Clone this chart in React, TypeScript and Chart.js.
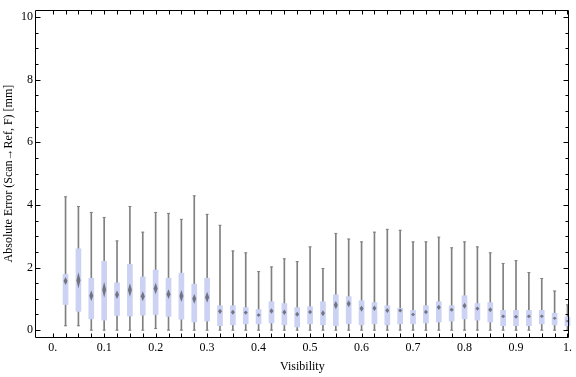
import React, { useEffect, useRef } from "react";
import { Chart, registerables } from "chart.js";
Chart.register(...registerables);

const VISIBILITY = [
  0.025, 0.05, 0.075, 0.1, 0.125, 0.15, 0.175, 0.2, 0.225, 0.25,
  0.275, 0.3, 0.325, 0.35, 0.375, 0.4, 0.425, 0.45, 0.475, 0.5,
  0.525, 0.55, 0.575, 0.6, 0.625, 0.65, 0.675, 0.7, 0.725, 0.75,
  0.775, 0.8, 0.825, 0.85, 0.875, 0.9, 0.925, 0.95, 0.975, 1.0,
];
const WHISKER_LOW = [
  0.14, 0.14, 0, 0, 0, 0, 0, 0.05, 0, 0,
  0, 0, 0, 0, 0, 0, 0, 0, 0, 0,
  0, 0, 0, 0, 0, 0, 0, 0, 0, 0,
  0, 0, 0, 0, 0, 0, 0, 0, 0, 0,
];
const Q1 = [
  0.82, 0.6, 0.36, 0.32, 0.47, 0.45, 0.48, 0.5, 0.44, 0.35,
  0.26, 0.29, 0.14, 0.17, 0.2, 0.2, 0.23, 0.17, 0.1, 0.2,
  0.17, 0.14, 0.21, 0.17, 0.2, 0.17, 0.2, 0.2, 0.23, 0.26,
  0.29, 0.36, 0.32, 0.26, 0.14, 0.14, 0.14, 0.2, 0.17, 0.14,
];
const MEDIAN = [
  1.57, 1.59, 1.1, 1.29, 1.13, 1.28, 1.08, 1.33, 1.15, 1.09,
  1.0, 1.05, 0.6, 0.57, 0.56, 0.48, 0.61, 0.57, 0.51, 0.58,
  0.54, 0.8, 0.84, 0.69, 0.7, 0.63, 0.63, 0.5, 0.58, 0.73,
  0.65, 0.78, 0.69, 0.65, 0.44, 0.43, 0.44, 0.44, 0.38, 0.29,
];
const Q3 = [
  1.78, 2.6, 1.66, 2.2, 1.51, 2.1, 1.7, 1.92, 1.66, 1.82,
  1.47, 1.66, 0.78, 0.78, 0.72, 0.66, 0.91, 0.85, 0.72, 0.75,
  0.91, 1.13, 1.07, 0.94, 0.88, 0.78, 0.7, 0.63, 0.78, 0.91,
  0.78, 1.1, 0.85, 0.88, 0.63, 0.63, 0.63, 0.63, 0.54, 0.42,
];
const WHISKER_HIGH = [
  4.26, 3.95, 3.76, 3.6, 2.85, 3.95, 3.13, 3.76, 3.73, 3.54,
  4.29, 3.7, 3.35, 2.53, 2.47, 1.87, 2.02, 2.28, 2.19, 2.66,
  1.97, 3.09, 2.91, 2.82, 3.13, 3.22, 3.19, 2.82, 2.82, 2.97,
  2.63, 2.82, 2.66, 2.47, 2.13, 2.22, 1.84, 1.65, 1.25, 0.81,
];

const X_TICK_VALUES = [0, 0.1, 0.2, 0.3, 0.4, 0.5, 0.6, 0.7, 0.8, 0.9, 1.0];
const X_TICK_LABELS = ["0.", "0.1", "0.2", "0.3", "0.4", "0.5", "0.6", "0.7", "0.8", "0.9", "1."];
const X_MINOR_TICKS = [0, ...VISIBILITY];
const Y_TICK_VALUES = [0, 2, 4, 6, 8, 10];
const Y_MINOR_TICKS = [
  0, 0.5, 1, 1.5, 2, 2.5, 3, 3.5, 4, 4.5, 5, 5.5, 6, 6.5, 7, 7.5, 8, 8.5, 9, 9.5, 10,
];

const X_TITLE = "Visibility";
const Y_TITLE = "Absolute Error (Scan\u2192Ref, F) [mm]";

const BOX_COLOR = "#cbd2f4";
const WHISKER_COLOR = "#808080";

const diamondPlugin = {
  id: "medianDiamonds",
  afterDatasetsDraw(chart: any) {
    const { ctx } = chart;
    const xs = chart.scales.x;
    const ys = chart.scales.y;
    ctx.save();
    ctx.fillStyle = "rgba(100,100,108,0.85)";
    VISIBILITY.forEach((v, i) => {
      const cx = xs.getPixelForValue(v);
      const cy = ys.getPixelForValue(MEDIAN[i]);
      const iqrPx = ys.getPixelForValue(Q1[i]) - ys.getPixelForValue(Q3[i]);
      const half = Math.max(0.8, iqrPx * 0.13);
      ctx.beginPath();
      ctx.moveTo(cx, cy - half);
      ctx.lineTo(cx + 2, cy);
      ctx.lineTo(cx, cy + half);
      ctx.lineTo(cx - 2, cy);
      ctx.closePath();
      ctx.fill();
    });
    ctx.restore();
  },
};

const framePlugin = {
  id: "frameTicks",
  afterDraw(chart: any) {
    const { ctx, chartArea } = chart;
    const xs = chart.scales.x;
    const ys = chart.scales.y;
    const L = Math.round(chartArea.left) - 0.5;
    const R = Math.round(chartArea.right) - 0.5;
    const T = Math.round(chartArea.top) + 0.5;
    const B = Math.round(chartArea.bottom) + 0.5;
    ctx.save();
    ctx.strokeStyle = "#000";
    ctx.lineWidth = 1;
    ctx.beginPath();
    ctx.rect(L, T, R - L, B - T);
    X_MINOR_TICKS.forEach((v) => {
      const px = Math.round(xs.getPixelForValue(v)) + 0.5;
      ctx.moveTo(px, B);
      ctx.lineTo(px, B - 4);
      ctx.moveTo(px, T);
      ctx.lineTo(px, T + 4);
    });
    Y_MINOR_TICKS.forEach((v) => {
      const py = Math.round(ys.getPixelForValue(v)) + 0.5;
      const len = Y_TICK_VALUES.includes(v) ? 5 : 3;
      ctx.moveTo(L, py);
      ctx.lineTo(L + len, py);
      ctx.moveTo(R, py);
      ctx.lineTo(R - len, py);
    });
    ctx.stroke();
    ctx.restore();
  },
};

export default function App() {
  const canvasRef = useRef<HTMLCanvasElement | null>(null);

  useEffect(() => {
    if (!canvasRef.current) return;
    Chart.defaults.font.family = "'Liberation Serif', 'DejaVu Serif', serif";
    Chart.defaults.font.size = 12;
    Chart.defaults.color = "#000";

    const whiskerData = VISIBILITY.map((v, i) => ({ x: v, y: [WHISKER_LOW[i], WHISKER_HIGH[i]] }));
    const boxData = VISIBILITY.map((v, i) => ({ x: v, y: [Q1[i], Q3[i]] }));
    const capHigh = VISIBILITY.map((v, i) => ({ x: v, y: WHISKER_HIGH[i] }));
    const capLow = VISIBILITY.map((v, i) => ({ x: v, y: WHISKER_LOW[i] }));

    const chart = new Chart(canvasRef.current, {
      type: "bar",
      data: {
        datasets: [
          {
            type: "bar",
            data: whiskerData as any,
            backgroundColor: WHISKER_COLOR,
            borderWidth: 0,
            barThickness: 1,
            grouped: false,
            clip: false,
            order: 3,
          } as any,
          {
            type: "bar",
            data: boxData as any,
            backgroundColor: BOX_COLOR,
            borderWidth: 0,
            barThickness: 5,
            grouped: false,
            clip: false,
            order: 2,
          } as any,
          {
            type: "scatter",
            data: capHigh,
            pointStyle: "line",
            radius: 1.5,
            borderColor: WHISKER_COLOR,
            borderWidth: 1,
            clip: false,
            order: 1,
          } as any,
          {
            type: "scatter",
            data: capLow,
            pointStyle: "line",
            radius: 1.5,
            borderColor: WHISKER_COLOR,
            borderWidth: 1,
            clip: false,
            order: 1,
          } as any,
        ],
      },
      options: {
        responsive: false,
        animation: false,
        events: [],
        layout: { padding: { left: 0, right: 4, top: 4, bottom: 0 } },
        plugins: {
          legend: { display: false },
          tooltip: { enabled: false },
        },
        scales: {
          x: {
            type: "linear",
            offset: false,
            min: -0.0324,
            max: 1.0025,
            grid: { display: false, drawTicks: false },
            border: { display: false },
            afterBuildTicks: (scale: any) => {
              scale.ticks = X_TICK_VALUES.map((v) => ({ value: v }));
            },
            afterFit: (scale: any) => {
              scale.height = 40;
            },
            ticks: {
              autoSkip: false,
              maxRotation: 0,
              minRotation: 0,
              padding: 4,
              callback: (_v: any, index: number) => X_TICK_LABELS[index],
            },
            title: {
              display: true,
              text: X_TITLE,
              padding: { top: 3, bottom: 3 },
              font: { size: 12 },
            },
          },
          y: {
            type: "linear",
            min: -0.219,
            max: 10.22,
            grid: { display: false, drawTicks: false },
            border: { display: false },
            afterBuildTicks: (scale: any) => {
              scale.ticks = Y_TICK_VALUES.map((v) => ({ value: v }));
            },
            afterFit: (scale: any) => {
              scale.width = 36;
            },
            ticks: {
              padding: 3,
              callback: (v: any) => String(v),
            },
            title: {
              display: true,
              text: Y_TITLE,
              padding: { top: 2, bottom: 2 },
              font: { size: 12 },
            },
          },
        },
      },
      plugins: [diamondPlugin, framePlugin],
    } as any);

    return () => chart.destroy();
  }, []);

  return (
    <div style={{ position: "fixed", left: 0, top: 0, width: 576, height: 377, background: "#fff" }}>
      <canvas ref={canvasRef} width={576} height={377} style={{ display: "block" }} />
    </div>
  );
}
